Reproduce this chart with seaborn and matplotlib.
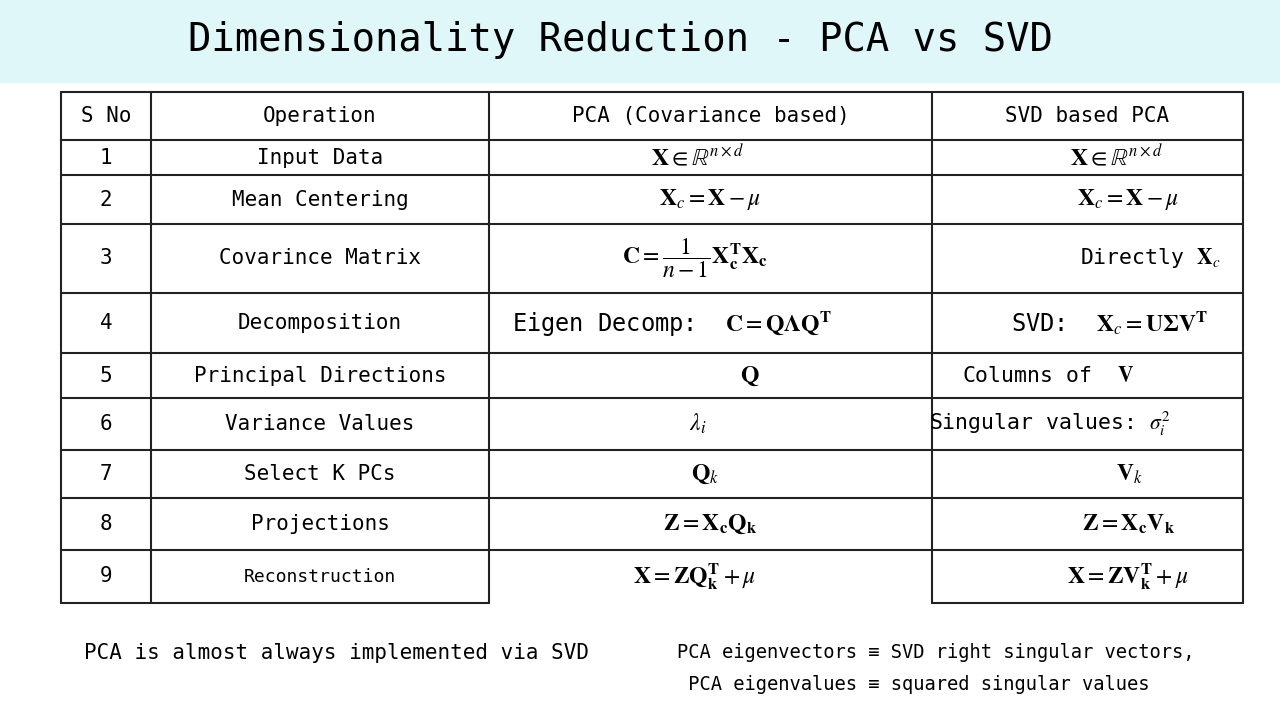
import matplotlib
matplotlib.use("Agg")
import matplotlib.pyplot as plt
import seaborn as sns

sns.set_theme(style="white")
plt.rcParams['font.family'] = ['DejaVu Sans Mono', 'DejaVu Sans']
plt.rcParams['mathtext.fontset'] = 'stix'
plt.rcParams['text.color'] = 'black'

title = "Dimensionality Reduction - PCA vs SVD"
headers = ["S No", "Operation", "PCA (Covariance based)", "SVD based PCA"]
sno = ["1", "2", "3", "4", "5", "6", "7", "8", "9"]
operations = ["Input Data", "Mean Centering", "Covarince Matrix", "Decomposition",
              "Principal Directions", "Variance Values", "Select K PCs",
              "Projections", "Reconstruction"]
pca_col = [r"$\mathbf{X} \in \mathbb{R}^{n\times d}$",
           r"$\mathbf{X}_c = \mathbf{X} - \mu$",
           r"$\mathbf{C} = \dfrac{1}{n-1}\mathbf{X}_\mathbf{c}^\mathbf{T}\mathbf{X}_\mathbf{c}$",
           r"Eigen Decomp:  $\mathbf{C} = \mathbf{Q\Lambda Q}^\mathbf{T}$",
           r"$\mathbf{Q}$",
           r"$\lambda_i$",
           r"$\mathbf{Q}_k$",
           r"$\mathbf{Z} = \mathbf{X}_\mathbf{c}\mathbf{Q}_\mathbf{k}$",
           r"$\mathbf{X} = \mathbf{Z}\mathbf{Q}_\mathbf{k}^\mathbf{T} + \mu$"]
svd_col = [r"$\mathbf{X} \in \mathbb{R}^{n\times d}$",
           r"$\mathbf{X}_c = \mathbf{X} - \mu$",
           r"Directly $\mathbf{X}_c$",
           r"SVD:  $\mathbf{X}_c = \mathbf{U\Sigma V}^\mathbf{T}$",
           r"Columns of  $\mathbf{V}$",
           r"Singular values: $\sigma_i^2$",
           r"$\mathbf{V}_k$",
           r"$\mathbf{Z} = \mathbf{X}_\mathbf{c}\mathbf{V}_\mathbf{k}$",
           r"$\mathbf{X} = \mathbf{Z}\mathbf{V}_\mathbf{k}^\mathbf{T} + \mu$"]
svd_x = [1117, 1128, 1150, 1110, 1048, 1050, 1130, 1128, 1128]
pca_x = [698, 710, 695, 672, 750, 698, 705, 710, 695]
footer_left = "PCA is almost always implemented via SVD"
footer_right = ["PCA eigenvectors \u2261 SVD right singular vectors,",
                " PCA eigenvalues \u2261 squared singular values"]

col_edges = [61, 151, 489, 932, 1243]
row_edges = [92, 140, 175, 224, 293, 353, 398, 450, 498, 550, 603]

fig = plt.figure(figsize=(12.8, 7.2), dpi=100)
ax = fig.add_axes([0, 0, 1, 1])
ax.set_xlim(0, 1280); ax.set_ylim(720, 0); ax.axis('off')
fig.patch.set_facecolor('white')

ax.add_patch(plt.Rectangle((0, 0), 1280, 82, color='#e0f7fa', zorder=0))
ax.text(620, 40, title, fontsize=28, ha='center', va='center')

lw = 1.5
for y in row_edges[:-1]:
    ax.plot([col_edges[0], col_edges[-1]], [y, y], color='#222222', lw=lw)
yb = row_edges[-1]
ax.plot([col_edges[0], col_edges[2]], [yb, yb], color='#222222', lw=lw)
ax.plot([col_edges[3], col_edges[4]], [yb, yb], color='#222222', lw=lw)
for x in col_edges:
    ax.plot([x, x], [row_edges[0], row_edges[-1]], color='#222222', lw=lw)

ty = (row_edges[0] + row_edges[1]) / 2
for i, h in enumerate(headers):
    ax.text((col_edges[i] + col_edges[i+1]) / 2, ty, h, fontsize=15, ha='center', va='center')

for r in range(len(sno)):
    yc = (row_edges[r+1] + row_edges[r+2]) / 2
    ax.text(106, yc, sno[r], fontsize=15, ha='center', va='center')
    fs = 13 if operations[r] == "Reconstruction" else 15
    ax.text(320, yc, operations[r], fontsize=fs, ha='center', va='center')
    ax.text(pca_x[r], yc, pca_col[r], fontsize=17, ha='center', va='center')
    ax.text(svd_x[r], yc, svd_col[r], fontsize=17 if r not in (2, 4, 5) else 15.5,
            ha='center', va='center')

ax.text(84, 653, footer_left, fontsize=15, ha='left', va='center')
ax.text(677, 653, footer_right[0], fontsize=13.5, ha='left', va='center')
ax.text(677, 685, footer_right[1], fontsize=13.5, ha='left', va='center')

fig.savefig("out.png", dpi=100)
